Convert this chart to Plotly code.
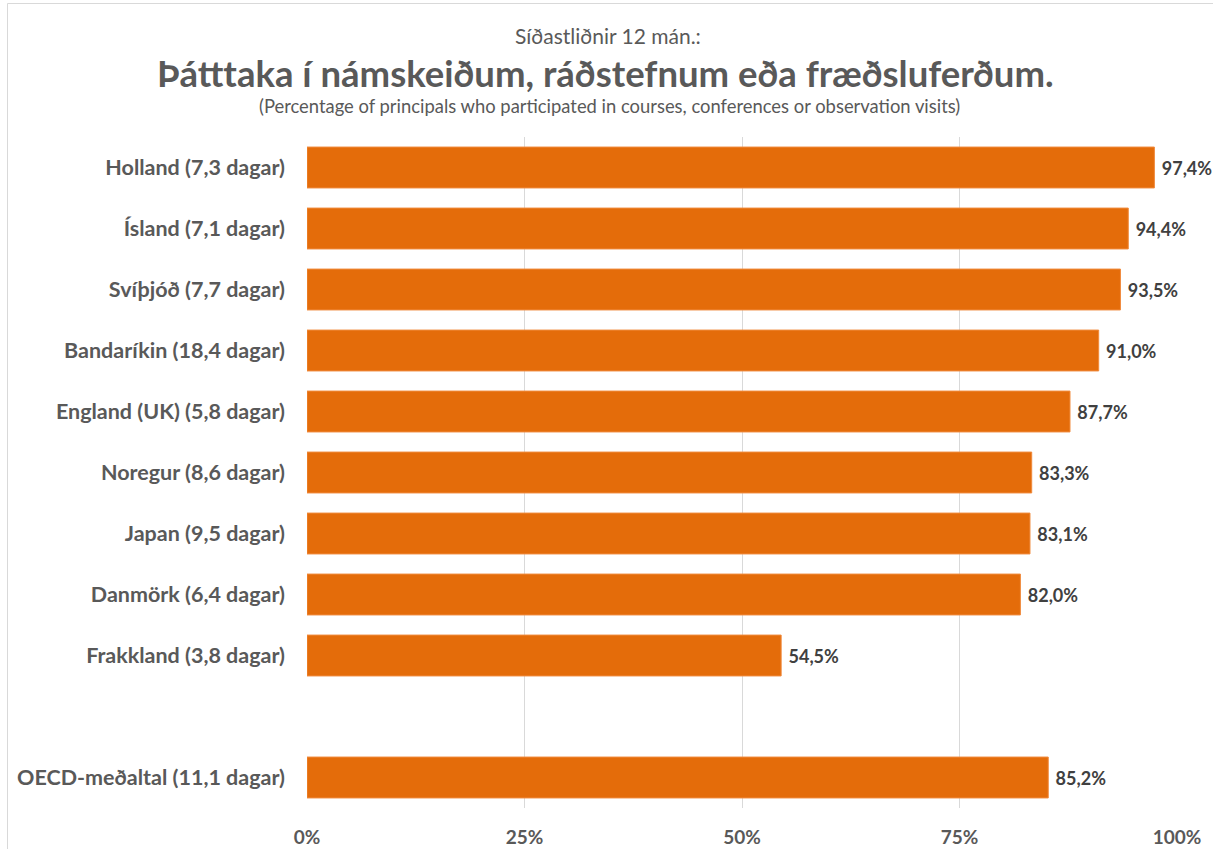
import plotly.graph_objects as go

categories = [
    "Holland (7,3 dagar)",
    "Ísland (7,1 dagar)",
    "Svíþjóð (7,7 dagar)",
    "Bandaríkin (18,4 dagar)",
    "England (UK) (5,8 dagar)",
    "Noregur (8,6 dagar)",
    "Japan (9,5 dagar)",
    "Danmörk (6,4 dagar)",
    "Frakkland (3,8 dagar)",
    " ",
    "OECD-meðaltal (11,1 dagar)",
]
values = [97.4, 94.4, 93.5, 91.0, 87.7, 83.3, 83.1, 82.0, 54.5, None, 85.2]
labels = [(" %.1f%%" % v).replace(".", ",") if v is not None else "" for v in values]
tick_vals = [0, 25, 50, 75, 100]
tick_text = ["0%", "25%", "50%", "75%", "100%"]

W, H = 1213, 849
ml, mr, mt, mb = 307, 36, 137, 41
pw, ph = W - ml - mr, H - mt - mb

def px(x):
    return (x - ml) / pw

def py(y):
    return (H - mb - y) / ph

FONT = "Lato"
GRAY = "#595959"

fig = go.Figure(go.Bar(
    y=categories,
    x=values,
    orientation="h",
    marker=dict(color="#E46C0A", line=dict(color="#F08A3C", width=1)),
    width=0.67,
    text=labels,
    textposition="outside",
    textfont=dict(family=FONT, size=18, color="#404040", weight="bold"),
    cliponaxis=False,
    hoverinfo="skip",
))

fig.update_layout(
    width=W, height=H,
    margin=dict(l=ml, r=mr, t=mt, b=mb, autoexpand=False),
    paper_bgcolor="white",
    plot_bgcolor="white",
    showlegend=False,
    xaxis=dict(
        range=[0, 100],
        tickvals=tick_vals,
        ticktext=tick_text,
        showgrid=True,
        gridcolor="#D9D9D9",
        gridwidth=1,
        zeroline=False,
        showline=False,
        tickfont=dict(family=FONT, size=19, color=GRAY, weight="bold"),
        ticklen=0,
        ticks="",
        ticklabelstandoff=16,
        automargin=False,
        fixedrange=True,
    ),
    yaxis=dict(
        categoryorder="array",
        categoryarray=categories,
        autorange="reversed",
        showgrid=False,
        zeroline=False,
        showline=False,
        tickfont=dict(family=FONT, size=21.5, color=GRAY, weight="bold"),
        ticklen=0,
        ticks="",
        ticklabelstandoff=21,
        automargin=False,
        fixedrange=True,
    ),
    annotations=[
        dict(text="Síðastliðnir 12 mán.:", xref="paper", yref="paper",
             x=px(608), y=py(36), xanchor="center", yanchor="middle",
             showarrow=False, font=dict(family=FONT, size=21, color=GRAY)),
        dict(text="<b>Þátttaka í námskeiðum, ráðstefnum eða fræðsluferðum.</b>", xref="paper", yref="paper",
             x=px(605), y=py(73), xanchor="center", yanchor="middle",
             showarrow=False, font=dict(family=FONT, size=36.5, color=GRAY)),
        dict(text="(Percentage of principals who participated in courses, conferences or observation visits)",
             xref="paper", yref="paper",
             x=px(609), y=py(106), xanchor="center", yanchor="middle",
             showarrow=False, font=dict(family=FONT, size=18.4, color=GRAY)),
    ],
    shapes=[
        dict(type="line", xref="paper", yref="paper",
             x0=px(7.5), x1=px(1213), y0=py(3.5), y1=py(3.5),
             line=dict(color="#D9D9D9", width=1), layer="below"),
        dict(type="line", xref="paper", yref="paper",
             x0=px(7.5), x1=px(7.5), y0=py(3.5), y1=py(849),
             line=dict(color="#D9D9D9", width=1), layer="below"),
    ],
)

fig.write_html("out.html", config={"displayModeBar": False},
               post_script="document.body.style.margin='0';")
